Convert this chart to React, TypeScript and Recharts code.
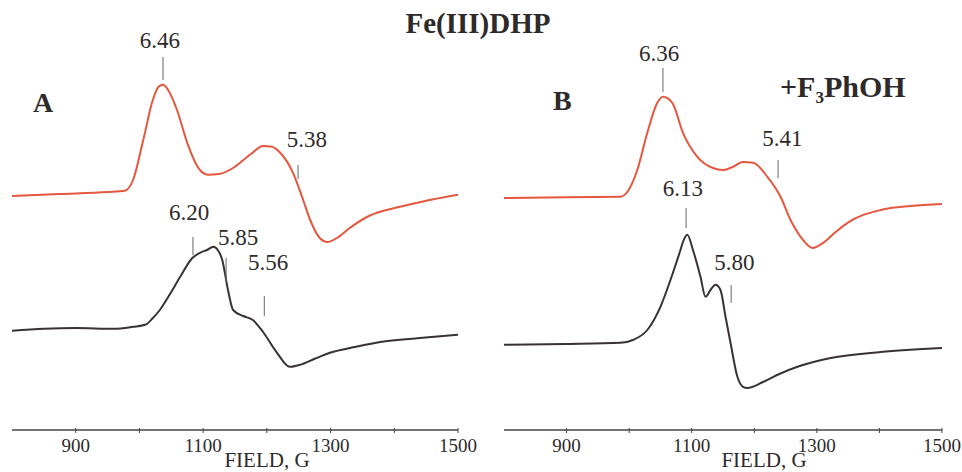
import React from 'react';
import { LineChart, Line, XAxis, YAxis, ReferenceLine, ReferenceDot } from 'recharts';

// ---------- data ----------
const fieldTicks = [900, 1000, 1100, 1200, 1300, 1400, 1500];
const labeledTicks = [900, 1100, 1300, 1500];

// Panel A, red (Fe(III)DHP)
const redAField = [800, 875, 950, 977, 990, 1006, 1021, 1030, 1037, 1045, 1059, 1075, 1095, 1108, 1125, 1147, 1175, 1194, 1208, 1221, 1241, 1257, 1268, 1283, 1295, 1310, 1330, 1360, 1409, 1450, 1500];
const redAIntensity = [58.5, 59, 59.5, 59.8, 62.5, 72.5, 82.5, 85.8, 86.3, 85, 80, 71.8, 65, 63.8, 64, 65.5, 69, 71, 70.8, 69.3, 64.3, 57.5, 52.5, 48, 47, 48, 50.5, 53.5, 55.8, 57.3, 58.8];

// Panel A, black
const blackAField = [800, 850, 900, 960, 990, 1009, 1020, 1032, 1048, 1064, 1083, 1095, 1106, 1116, 1123, 1130, 1139, 1147, 1163, 1178, 1194, 1216, 1236, 1252, 1275, 1299, 1340, 1378, 1440, 1500];
const blackAIntensity = [24.8, 25.3, 25.5, 25.3, 25.8, 26.3, 27.8, 30, 34, 38.3, 43, 44.3, 45, 45.8, 45, 42.5, 35, 30, 28.5, 27.5, 24.5, 19.3, 15.8, 16.3, 17.8, 19.3, 20.8, 22, 23, 23.8];

// Panel B, red (+F3PhOH)
const redBField = [800, 900, 986, 997, 1013, 1029, 1045, 1054, 1069, 1086, 1109, 1134, 1150, 1166, 1182, 1198, 1221, 1242, 1258, 1274, 1293, 1310, 1330, 1349, 1402, 1450, 1500];
const redBIntensity = [58, 58.2, 58.3, 59.5, 65, 74.3, 81.8, 83.3, 81.8, 74.3, 68.3, 65.5, 65, 65.8, 67, 66.8, 63.3, 58.3, 52.5, 48.3, 45.5, 46.8, 49.5, 51.8, 55, 56, 56.5];

// Panel B, black
const blackBField = [800, 900, 986, 1006, 1029, 1050, 1070, 1082, 1086, 1093, 1102, 1114, 1122, 1130, 1138, 1146, 1154, 1162, 1173, 1182, 1189, 1214, 1240, 1269, 1322, 1402, 1500];
const blackBIntensity = [21.3, 21.5, 21.8, 22.5, 25, 30.8, 39.3, 45, 47, 48.8, 45, 38.3, 33.3, 35, 36.3, 35, 28.3, 21.8, 13.3, 10.8, 10.5, 12, 14, 15.8, 18, 19.5, 20.5];

// g-value annotations: label, field of mark, mark low/high intensity, label field, label intensity
const gLabelsA = ['6.46', '5.38', '6.20', '5.85', '5.56'];
const gFieldA = [1037, 1249, 1084, 1136, 1196];
const gLowA = [87.5, 62.75, 43.75, 37, 28.5];
const gHighA = [93.25, 66.25, 48.25, 43, 33.5];
const gTextFieldA = [1032, 1263, 1078, 1155, 1202];
const gTextYA = [97.5, 72.75, 54.5, 48.25, 42];

const gLabelsB = ['6.36', '5.41', '6.13', '5.80'];
const gFieldB = [1054, 1238, 1091, 1163];
const gLowB = [84.5, 63, 50.5, 31.75];
const gHighB = [90.5, 67.5, 55.5, 36.25];
const gTextFieldB = [1048, 1245, 1086, 1168];
const gTextYB = [94.25, 73, 60.5, 42];

// ---------- helpers ----------
const zip = (xs: number[], ys: number[]) => xs.map((x, i) => ({ field: x, v: ys[i] }));

const RED = '#e5573f';
const BLACK = '#3a3232';
const TEXT = '#2e2a2a';
const SERIF = '"Liberation Serif", "DejaVu Serif", serif';

const Tick = (props: any) => {
  const { x, y, payload } = props;
  const show = labeledTicks.includes(payload.value);
  return (
    <g>
      <line x1={x} x2={x} y1={y - 2} y2={y + 3} stroke="#444" strokeWidth={1} />
      {show && (
        <text x={x} y={y + 22} textAnchor="middle" style={{ fontFamily: SERIF }} fontSize={19} fill={TEXT}>
          {payload.value}
        </text>
      )}
    </g>
  );
};

const makeLabelShape = (lab: string) => (p: any) => (
  <text
    x={p.cx}
    y={p.cy}
    textAnchor="middle"
    dominantBaseline="central"
    style={{ fontFamily: SERIF }}
    fontSize={23}
    fill={TEXT}
  >
    {lab}
  </text>
);

type PanelProps = {
  width: number;
  left: number;
  right: number;
  red: { field: number; v: number }[];
  black: { field: number; v: number }[];
  labels: string[];
  fields: number[];
  lows: number[];
  highs: number[];
  tFields: number[];
  tYs: number[];
};

const Panel = ({ width, left, right, red, black, labels, fields, lows, highs, tFields, tYs }: PanelProps) => (
  <LineChart width={width} height={472} margin={{ top: 30, right, left, bottom: 0 }}>
    <XAxis
      type="number"
      dataKey="field"
      domain={[800, 1500]}
      ticks={fieldTicks}
      allowDataOverflow
      height={42}
      tickSize={0}
      tickMargin={0}
      tickLine={false}
      tick={<Tick />}
      axisLine={{ stroke: '#444', strokeWidth: 1.3 }}
      interval={0}
    />
    <YAxis type="number" domain={[0, 100]} hide allowDataOverflow />
    <Line data={red} dataKey="v" type="monotone" stroke={RED} strokeWidth={2} dot={false} isAnimationActive={false} />
    <Line data={black} dataKey="v" type="monotone" stroke={BLACK} strokeWidth={2} dot={false} isAnimationActive={false} />
    {labels.map((lab, i) => (
      <ReferenceLine
        key={'l' + lab}
        segment={[{ x: fields[i], y: lows[i] }, { x: fields[i], y: highs[i] }]}
        stroke="#666"
        strokeWidth={1}
      />
    ))}
    {labels.map((lab, i) => (
      <ReferenceDot key={'t' + lab} x={tFields[i]} y={tYs[i]} r={1} shape={makeLabelShape(lab)} />
    ))}
  </LineChart>
);

export default function App() {
  return (
    <div
      style={{
        position: 'absolute',
        left: 0,
        top: 0,
        width: 962,
        height: 472,
        overflow: 'hidden',
        background: '#fff',
        fontFamily: SERIF,
      }}
    >
      <div style={{ position: 'absolute', left: 0, top: 0 }}>
        <Panel
          width={480}
          left={12}
          right={22}
          red={zip(redAField, redAIntensity)}
          black={zip(blackAField, blackAIntensity)}
          labels={gLabelsA}
          fields={gFieldA}
          lows={gLowA}
          highs={gHighA}
          tFields={gTextFieldA}
          tYs={gTextYA}
        />
      </div>
      <div style={{ position: 'absolute', left: 480, top: 0 }}>
        <Panel
          width={482}
          left={24}
          right={20}
          red={zip(redBField, redBIntensity)}
          black={zip(blackBField, blackBIntensity)}
          labels={gLabelsB}
          fields={gFieldB}
          lows={gLowB}
          highs={gHighB}
          tFields={gTextFieldB}
          tYs={gTextYB}
        />
      </div>
      <svg width={962} height={472} style={{ position: 'absolute', left: 0, top: 0, pointerEvents: 'none', fontFamily: SERIF }}>
        <text x={478} y={33} textAnchor="middle" fontWeight="bold" fontSize={29} fill={TEXT}>Fe(III)DHP</text>
        <text x={33} y={112} fontWeight="bold" fontSize={28} fill={TEXT}>A</text>
        <text x={553} y={110} fontWeight="bold" fontSize={28} fill={TEXT}>B</text>
        <text x={780} y={97} fontWeight="bold" fontSize={30} fill={TEXT}>
          +F<tspan fontSize={17} dy={6}>3</tspan><tspan dy={-6}>PhOH</tspan>
        </text>
        <text x={267} y={467} textAnchor="middle" fontSize={21} fill={TEXT}>FIELD, G</text>
        <text x={764} y={467} textAnchor="middle" fontSize={21} fill={TEXT}>FIELD, G</text>
      </svg>
    </div>
  );
}
